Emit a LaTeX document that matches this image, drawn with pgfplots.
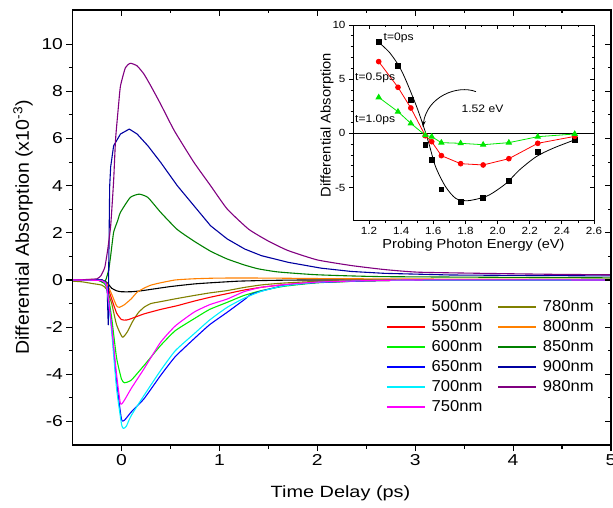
\documentclass[border=0pt]{standalone}
\usepackage{pgfplots}
\pgfplotsset{compat=1.18}
\usepackage{fontspec}
\setmainfont{Liberation Sans}
\newfontfamily\fa{Liberation Sans}[FakeStretch=1.22]
\newfontfamily\fb{Liberation Sans}[FakeStretch=1.05]
\newfontfamily\fc{Liberation Sans}[FakeStretch=1.12]
\usetikzlibrary{arrows.meta}
\definecolor{c500}{RGB}{0,0,0}
\definecolor{c550}{RGB}{255,0,0}
\definecolor{c600}{RGB}{0,240,0}
\definecolor{c650}{RGB}{0,0,255}
\definecolor{c700}{RGB}{0,240,255}
\definecolor{c750}{RGB}{255,0,255}
\definecolor{c780}{RGB}{128,128,0}
\definecolor{c800}{RGB}{255,128,0}
\definecolor{c850}{RGB}{0,128,0}
\definecolor{c900}{RGB}{0,0,160}
\definecolor{c980}{RGB}{128,0,128}
\definecolor{tri}{RGB}{0,230,0}
\pgfplotsset{
  mainbox/.style={at={(0pt,0pt)}, anchor=south west, scale only axis,
    width=538.5pt, height=435pt, xmin=-0.5, xmax=5, ymin=-7, ymax=11.45,
    xtick={0,1,2,3,4,5}, ytick={-6,-4,...,10}, minor x tick num=1, minor y tick num=1,
    major tick length=6pt, minor tick length=3.5pt,
    tick style={black, line width=1.1pt}},
  insetbox/.style={at={(280.5pt,225pt)}, anchor=south west, scale only axis,
    width=241pt, height=195pt, xmin=1.1, xmax=2.6, ymin=-8, ymax=10,
    xtick={1.2,1.4,...,2.61}, ytick={-5,0,5,10}, minor x tick num=1, minor y tick num=4,
    major tick length=4pt, minor tick length=2.5pt,
    tick style={black, line width=0.8pt}},
  sm/.style={smooth, tension=0.3},
}
\begin{document}
\begin{tikzpicture}
\useasboundingbox (-72.5pt,-62pt) rectangle (540.5pt,445pt);
\begin{axis}[mainbox, tick align=outside, xtick pos=left, ytick pos=left,
  axis line style={line width=1.3pt},
  /pgf/number format/assume math mode=true,
  ticklabel style={font=\fa\fontsize{15.8}{16}\selectfont},
  no markers, every axis plot/.append style={line width=1.1pt, line join=round},
  legend columns=2,
  legend cell align=left,
  legend image code/.code={\draw[#1, line width=1.5pt] (0pt,0pt) -- (38pt,0pt);},
  legend style={at={(0.5766,0.338)}, anchor=north west, draw=none, fill=none,
    font=\fb\fontsize{15.8}{16}\selectfont, row sep=6pt,
    nodes={inner sep=0pt, text height=11pt, text depth=3pt},
    /tikz/every odd column/.append style={column sep=6pt},
    /tikz/every even column/.append style={column sep=15pt}},
]
\addplot[c500, sm] coordinates {(-0.5,0) (-0.3,0) (-0.2,0) (-0.15,-0.1) (-0.1,-0.35) (-0.05,-0.46) (0,-0.5) (0.1,-0.5) (0.2,-0.46) (0.3,-0.4) (0.5,-0.28) (0.74,-0.17) (0.91,-0.12) (1.2,-0.05) (1.5,-0.02) (2,0) (5,0)};
\addlegendentry{500nm}
\addplot[c780, sm] coordinates {(-0.5,-0.05) (-0.4,-0.08) (-0.3,-0.15) (-0.2,-0.22) (-0.15,-0.4) (-0.1,-1.0) (-0.05,-1.9) (0.01,-2.43) (0.06,-2.2) (0.11,-1.79) (0.17,-1.4) (0.23,-1.16) (0.3,-1.0) (0.4,-0.92) (0.55,-0.8) (0.74,-0.66) (0.9,-0.55) (1.08,-0.45) (1.25,-0.32) (1.43,-0.21) (1.66,-0.13) (2,-0.06) (2.5,-0.02) (3,0) (5,0)};
\addlegendentry{780nm}
\addplot[c550, sm] coordinates {(-0.5,0) (-0.2,-0.02) (-0.15,-0.2) (-0.1,-0.8) (-0.05,-1.4) (0,-1.68) (0.05,-1.7) (0.1,-1.64) (0.23,-1.44) (0.4,-1.25) (0.57,-1.09) (0.74,-0.9) (0.91,-0.73) (1.08,-0.58) (1.25,-0.43) (1.43,-0.31) (1.66,-0.2) (2,-0.1) (2.5,-0.04) (3,-0.01) (5,0)};
\addlegendentry{550nm}
\addplot[c800, sm] coordinates {(-0.5,0) (-0.3,0.02) (-0.2,0) (-0.15,-0.15) (-0.1,-0.6) (-0.05,-1.1) (-0.02,-1.16) (0.03,-1.05) (0.1,-0.8) (0.16,-0.52) (0.23,-0.35) (0.3,-0.22) (0.4,-0.12) (0.55,0.0) (0.74,0.05) (1.0,0.08) (1.5,0.08) (2.0,0.06) (3,0.04) (5,0.03)};
\addlegendentry{800nm}
\addplot[c600, sm] coordinates {(-0.5,0) (-0.25,0) (-0.2,-0.08) (-0.15,-0.3) (-0.1,-1.6) (-0.05,-3.3) (0,-4.2) (0.03,-4.36) (0.1,-4.25) (0.23,-3.63) (0.4,-2.78) (0.55,-2.15) (0.74,-1.65) (0.9,-1.25) (1.08,-0.95) (1.25,-0.66) (1.43,-0.45) (1.66,-0.27) (2.0,-0.12) (2.5,-0.04) (3,-0.01) (5,0)};
\addlegendentry{600nm}
\addplot[c850, sm] coordinates {(-0.5,0) (-0.25,0) (-0.19,-0.1) (-0.16,0.0) (-0.13,0.44) (-0.11,1.03) (-0.08,2.02) (-0.04,2.5) (-0.01,2.87) (0.09,3.5) (0.18,3.64) (0.27,3.5) (0.4,2.87) (0.57,2.14) (0.74,1.65) (0.91,1.22) (1.08,0.89) (1.26,0.63) (1.4,0.47) (1.6,0.34) (2.0,0.22) (2.7,0.14) (5,0.09)};
\addlegendentry{850nm}
\addplot[c650, sm] coordinates {(-0.5,0) (-0.2,0) (-0.15,-0.3) (-0.1,-2.0) (-0.05,-4.3) (0,-5.9) (0.03,-5.95) (0.1,-5.6) (0.23,-5.04) (0.4,-4.05) (0.55,-3.25) (0.74,-2.5) (0.9,-1.9) (1.08,-1.37) (1.25,-0.85) (1.32,-0.62) (1.43,-0.47) (1.66,-0.24) (2.0,-0.11) (2.5,-0.04) (3,-0.01) (5,0)};
\addlegendentry{650nm}
\addplot[c900] coordinates {(-0.5,0) (-0.2,0) (-0.16,-0.1) (-0.145,-0.5) (-0.135,-1.9) (-0.13,0.5) (-0.12,4.0) (-0.11,4.8) (-0.08,5.69) (-0.01,6.19) (0.08,6.40) (0.16,6.19) (0.27,5.69) (0.4,4.99) (0.57,4.0) (0.74,3.15) (0.91,2.30) (1.08,1.74) (1.26,1.31) (1.43,1.03) (1.7,0.75) (2.04,0.5) (2.35,0.36) (2.69,0.28) (3.37,0.21) (5,0.17)};
\addlegendentry{900nm}
\addplot[c700, sm] coordinates {(-0.5,0) (-0.2,-0.03) (-0.15,-0.3) (-0.1,-2.2) (-0.05,-4.6) (0,-6.1) (0.02,-6.3) (0.05,-6.2) (0.1,-5.75) (0.23,-4.9) (0.4,-3.84) (0.55,-3.0) (0.74,-2.29) (0.9,-1.7) (1.08,-1.16) (1.25,-0.78) (1.43,-0.48) (1.66,-0.25) (2.0,-0.1) (2.5,-0.03) (3,-0.01) (5,0)};
\addlegendentry{700nm}
\addplot[c980, sm] coordinates {(-0.5,0) (-0.35,0.02) (-0.25,0.05) (-0.21,0.18) (-0.17,0.54) (-0.14,1.3) (-0.11,2.3) (-0.08,4.2) (-0.06,5.97) (-0.03,7.4) (-0.01,8.23) (0.04,9.0) (0.09,9.19) (0.16,9.08) (0.23,8.73) (0.3,8.23) (0.4,7.46) (0.54,6.33) (0.74,4.99) (0.91,4.0) (1.08,3.01) (1.3,2.15) (1.5,1.65) (1.7,1.25) (2.0,0.85) (2.35,0.61) (2.69,0.44) (3.03,0.33) (3.7,0.28) (4.4,0.24) (5,0.22)};
\addlegendentry{980nm}
\addplot[c750, sm] coordinates {(-0.5,0) (-0.2,-0.03) (-0.15,-0.3) (-0.1,-2.0) (-0.05,-4.0) (-0.01,-5.25) (0.03,-5.1) (0.1,-4.6) (0.23,-3.77) (0.4,-2.64) (0.55,-1.95) (0.74,-1.37) (0.9,-1.05) (1.08,-0.81) (1.25,-0.5) (1.43,-0.31) (1.66,-0.2) (2.0,-0.09) (2.5,-0.03) (3,0) (5,0)};
\addlegendentry{750nm}
\end{axis}
% mirrored inward ticks, top and right
\begin{axis}[mainbox, tick align=inside, xtick pos=right, ytick pos=right,
  xticklabels={}, yticklabels={}, axis line style={line width=1.3pt}]
\end{axis}
\node[rotate=90, font=\fb\fontsize{18.6}{19}\selectfont] at (-49.5pt,217.5pt) {Differential Absorption (x10\textsuperscript{-3})};
\node[font=\fa\fontsize{16.3}{17}\selectfont] at (268pt,-48pt) {Time Delay (ps)};
% inset
\begin{axis}[insetbox, tick align=outside, xtick pos=left, ytick pos=left,
  axis line style={line width=0.9pt},
  /pgf/number format/assume math mode=true,
  xticklabel style={/pgf/number format/.cd, fixed, fixed zerofill, precision=1},
  ticklabel style={font=\fc\fontsize{10.4}{11}\selectfont},
  every axis plot/.append style={line width=0.8pt},
]
\addplot[black, line width=0.5pt, forget plot] coordinates {(1.1,0) (2.6,0)};
\addplot[black, smooth, no markers] coordinates {(1.26,8.4) (1.332,7.38) (1.405,5.69) (1.488,2.77) (1.536,0.77) (1.572,-0.92) (1.614,-3.08) (1.676,-4.92) (1.739,-6.0) (1.802,-6.22) (1.865,-6.09) (1.948,-5.69) (2.053,-4.62) (2.136,-3.38) (2.241,-2.15) (2.345,-1.38) (2.477,-0.62)};
\addplot[only marks, mark=square*, mark size=2.4pt, black] coordinates {(1.26,8.46) (1.38,6.25) (1.46,3.1) (1.55,-1.1) (1.59,-2.46) (1.65,-5.17) (1.77,-6.34) (1.91,-5.94) (2.07,-4.37) (2.25,-1.75) (2.48,-0.62)};
\addplot[c550, mark=*, mark size=2.4pt] coordinates {(1.26,6.62) (1.38,4.25) (1.46,2.34) (1.55,-0.22) (1.59,-0.77) (1.65,-2.06) (1.77,-2.8) (1.91,-2.92) (2.07,-2.34) (2.25,-0.92) (2.48,-0.28)};
\addplot[tri, mark=triangle*, mark size=3pt] coordinates {(1.26,3.32) (1.38,2.0) (1.46,0.92) (1.55,-0.18) (1.59,-0.31) (1.65,-0.86) (1.77,-0.92) (1.91,-1.05) (2.07,-0.86) (2.25,-0.31) (2.48,-0.06)};
\node[font=\fc\fontsize{10.8}{11}\selectfont] at (axis cs:1.384,8.86) {t=0ps};
\node[font=\fc\fontsize{10.8}{11}\selectfont] at (axis cs:1.238,5.08) {t=0.5ps};
\node[font=\fc\fontsize{10.8}{11}\selectfont] at (axis cs:1.238,1.23) {t=1.0ps};
\node[font=\fc\fontsize{10.8}{11}\selectfont] at (axis cs:1.906,2.3) {1.52 eV};
\draw[-{Stealth[length=6pt,width=4pt]}, line width=0.8pt] (axis cs:1.865,3.85) .. controls (axis cs:1.75,4.5) and (axis cs:1.56,3.4) .. (axis cs:1.535,0.6);
\end{axis}
\begin{axis}[insetbox, tick align=inside, xtick pos=right, ytick pos=right,
  xticklabels={}, yticklabels={}, axis line style={line width=0.9pt}]
\end{axis}
\node[rotate=90, font=\fb\fontsize{14}{14}\selectfont] at (254.5pt,320pt) {Differential Absorption};
\node[font=\fc\fontsize{13}{13}\selectfont] at (401pt,200pt) {Probing Photon Energy (eV)};
\end{tikzpicture}
\end{document}
